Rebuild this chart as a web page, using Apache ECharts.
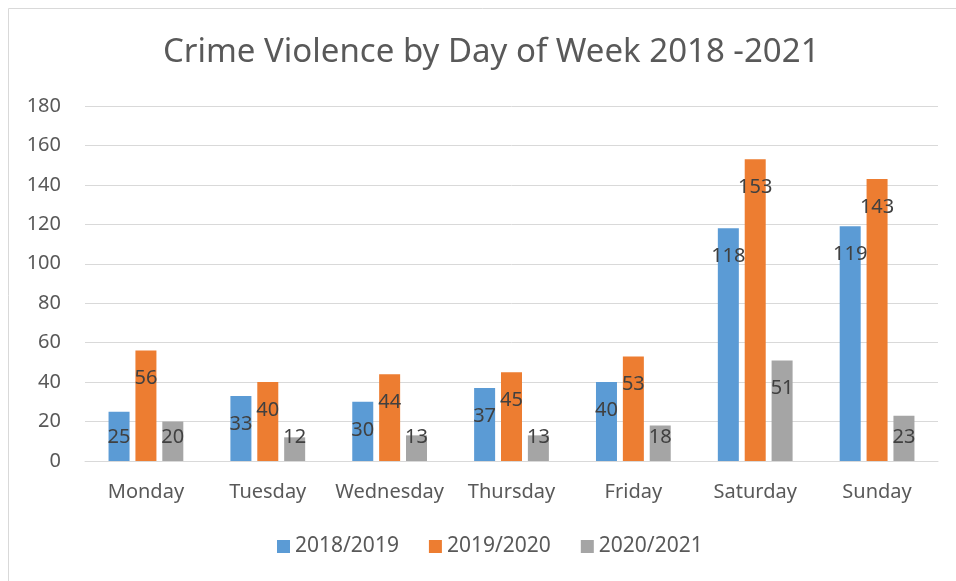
<!DOCTYPE html>
<html>
<head>
<meta charset="utf-8">
<script src="https://cdn.jsdelivr.net/npm/echarts@6/dist/echarts.min.js"></script>
<style>
  html, body { margin: 0; padding: 0; background: #fff; }
  #chart { width: 956px; height: 581px; }
</style>
</head>
<body>
<div id="chart"></div>
<script>
const days = ["Monday", "Tuesday", "Wednesday", "Thursday", "Friday", "Saturday", "Sunday"];
const seriesNames = ["2018/2019", "2019/2020", "2020/2021"];
const values2018 = [25, 33, 30, 37, 40, 118, 119];
const values2019 = [56, 40, 44, 45, 53, 153, 143];
const values2020 = [20, 12, 13, 13, 18, 51, 23];
const colors = ["#5B9BD5", "#ED7D31", "#A5A5A5"];

const font = "Noto Sans";
const textColor = "#595959";

// short bars: label sits near the base instead of inside the top
function toItems(arr) {
  return arr.map(function (v) {
    if (v < 26) {
      return { value: v, label: { position: "insideBottom", distance: 14 } };
    }
    return v;
  });
}

function makeSeries(name, arr, color) {
  return {
    name: name,
    type: "bar",
    barWidth: 21,
    barGap: "28%",
    itemStyle: { color: color },
    label: {
      show: true,
      position: "insideTop",
      distance: 18,
      color: "#404040",
      fontFamily: font,
      fontSize: 20,
    },
    data: toItems(arr),
  };
}

const mycharts = echarts.init(document.getElementById("chart"));
mycharts.setOption({
  animation: false,
  graphic: [
    {
      type: "rect",
      shape: { x: 8.5, y: 8.5, width: 1000, height: 1000 },
      style: { fill: "none", stroke: "#d9d9d9", lineWidth: 1 },
    },
  ],
  title: {
    text: "Crime Violence by Day of Week 2018 -2021",
    left: 158,
    top: 31,
    textStyle: {
      color: textColor,
      fontFamily: font,
      fontWeight: "normal",
      fontSize: 33,
    },
  },
  legend: {
    bottom: 19,
    left: 272,
    itemWidth: 13,
    itemHeight: 13,
    itemGap: 30,
    icon: "rect",
    data: seriesNames,
    textStyle: { color: textColor, fontFamily: font, fontSize: 21 },
  },
  grid: {
    left: 85,
    right: 18,
    top: 106,
    bottom: 120,
  },
  xAxis: {
    type: "category",
    data: days,
    axisLine: { lineStyle: { color: "#d9d9d9", width: 1 } },
    axisTick: { show: false },
    axisLabel: {
      interval: 0,
      color: textColor,
      fontFamily: font,
      fontSize: 20,
      margin: 21,
    },
  },
  yAxis: {
    type: "value",
    min: 0,
    max: 180,
    interval: 20,
    axisLine: { show: false },
    axisTick: { show: false },
    splitLine: { lineStyle: { color: "#d9d9d9", width: 1 } },
    axisLabel: {
      color: textColor,
      fontFamily: font,
      fontSize: 20,
      margin: 24,
    },
  },
  series: [
    makeSeries(seriesNames[0], values2018, colors[0]),
    makeSeries(seriesNames[1], values2019, colors[1]),
    makeSeries(seriesNames[2], values2020, colors[2]),
  ],
});
</script>
</body>
</html>
